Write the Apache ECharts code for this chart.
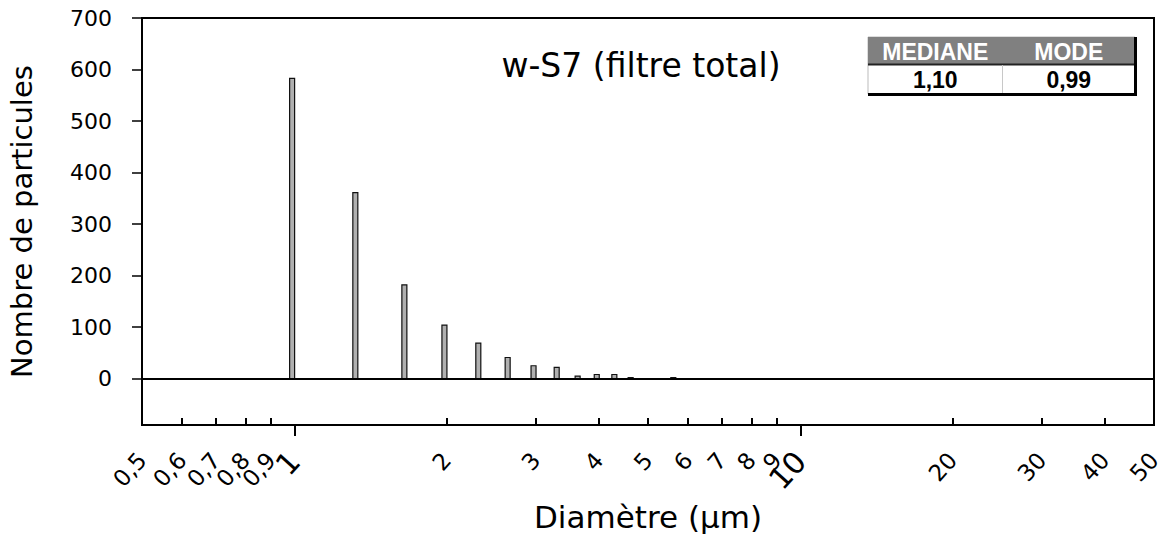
<!DOCTYPE html>
<html>
<head>
<meta charset="utf-8">
<script src="https://cdn.jsdelivr.net/npm/echarts@6.0.0/dist/echarts.min.js"></script>
<style>
html,body{margin:0;padding:0;background:#fff;}
#chart{width:1173px;height:538px;}
</style>
</head>
<body>
<div id="chart"></div>
<script>
// ---- data ----
const diameters = [0.99, 1.32, 1.65, 1.98, 2.31, 2.64, 2.97, 3.30, 3.63, 3.96, 4.29, 4.62, 5.61];
const counts = [583, 361, 182, 104, 69, 41, 25, 22, 5, 8, 8, 2, 2];
const xTickValues = [0.5, 0.6, 0.7, 0.8, 0.9, 1, 2, 3, 4, 5, 6, 7, 8, 9, 10, 20, 30, 40, 50];
const xTickLabels = ['0,5', '0,6', '0,7', '0,8', '0,9', '1', '2', '3', '4', '5', '6', '7', '8', '9', '10', '20', '30', '40', '50'];
const xMajorTicks = [1, 10];
const xMinorTicks = [0.6, 0.7, 0.8, 0.9, 2, 3, 4, 5, 6, 7, 8, 9, 20, 30, 40];
const yTickValues = [0, 100, 200, 300, 400, 500, 600, 700];
const yMin = -90, yMax = 700;
const xMin = 0.5, xMax = 50;
const chartTitle = 'w-S7 (filtre total)';
const xName = 'Diamètre (µm)';
const yName = 'Nombre de particules';
const tableHeaders = ['MEDIANE', 'MODE'];
const tableValues = ['1,10', '0,99'];

const lg = v => Math.log10(v);
const FONT = '"DejaVu Sans", sans-serif';
const TFONT = '"Liberation Sans", Arial, sans-serif';

function xLabelFmt(v) {
  let best = 0, bd = Infinity;
  for (let i = 0; i < xTickValues.length; i++) {
    const d = Math.abs(lg(xTickValues[i]) - v);
    if (d < bd) { bd = d; best = i; }
  }
  const t = xTickLabels[best];
  return xMajorTicks.indexOf(xTickValues[best]) >= 0 ? '{big|' + t + '}' : '{n|' + t + '}';
}

const chart = echarts.init(document.getElementById('chart'), null, {renderer: 'svg'});

// table geometry
const tX = 868, tY = 37, tW = 267, hH = 27, rH = 30, colX = 1002.5;

chart.setOption({
  animation: false,
  backgroundColor: '#ffffff',
  grid: {left: 142, right: 19, top: 18, bottom: 113, show: true, borderColor: '#000', borderWidth: 2, backgroundColor: 'transparent', outerBoundsMode: 'none', containLabel: false},
  xAxis: [{
    type: 'value', min: lg(xMin), max: lg(xMax), position: 'bottom',
    axisLine: {show: true, onZero: false, lineStyle: {color: '#000', width: 2}},
    axisTick: {show: true, inside: false, length: 11, customValues: xMajorTicks.map(lg), lineStyle: {color: '#000', width: 2}},
    axisLabel: {show: true, customValues: xTickValues.map(lg), rotate: 48, margin: 31, color: '#000', fontFamily: FONT, fontSize: 23,
      formatter: xLabelFmt,
      rich: {
        n: {fontSize: 23, fontFamily: FONT, color: '#000'},
        big: {fontSize: 30, fontFamily: FONT, color: '#000'}
      }},
    splitLine: {show: false},
    name: xName, nameLocation: 'middle', nameGap: 74,
    nameTextStyle: {fontFamily: FONT, fontSize: 31, color: '#000'}
  }, {
    type: 'value', min: lg(xMin), max: lg(xMax), position: 'bottom',
    axisLine: {show: false, onZero: false},
    axisTick: {show: true, inside: true, length: 7, customValues: xMinorTicks.map(lg), lineStyle: {color: '#000', width: 2}},
    axisLabel: {show: false},
    splitLine: {show: false}
  }],
  yAxis: {
    type: 'value', min: yMin, max: yMax,
    axisLine: {show: true, onZero: false, lineStyle: {color: '#000', width: 2}},
    axisTick: {show: true, inside: false, length: 10, customValues: yTickValues, lineStyle: {color: '#000', width: 1.5}},
    axisLabel: {show: true, customValues: yTickValues, margin: 30, color: '#000', fontFamily: FONT, fontSize: 22},
    splitLine: {show: false},
    name: yName, nameLocation: 'middle', nameGap: 106, nameRotate: 90,
    nameTextStyle: {fontFamily: FONT, fontSize: 29, color: '#000'}
  },
  series: [{
    type: 'custom',
    xAxisIndex: 0, yAxisIndex: 0,
    data: diameters.map((d, i) => [lg(d), counts[i]]),
    renderItem: function (params, api) {
      const top = api.coord([api.value(0), api.value(1)]);
      const base = api.coord([api.value(0), 0]);
      return {
        type: 'rect',
        shape: {x: top[0] - 2.5, y: top[1], width: 5, height: base[1] - top[1]},
        style: {fill: '#b0b0b0', stroke: '#111', lineWidth: 1.2}
      };
    },
    markLine: {
      silent: true, symbol: 'none', label: {show: false},
      lineStyle: {color: '#000', width: 2, type: 'solid'},
      data: [{yAxis: 0}]
    },
    z: 3
  }],
  graphic: [
    {type: 'text', x: 641, y: 65, style: {text: chartTitle, font: '33px ' + FONT, fill: '#000', align: 'center', verticalAlign: 'middle'}, z: 10},
    {type: 'rect', shape: {x: tX, y: tY, width: tW, height: hH + rH}, style: {fill: '#fff', stroke: '#bbb', lineWidth: 1}, z: 10},
    {type: 'rect', shape: {x: tX, y: tY, width: tW, height: hH}, style: {fill: '#808080'}, z: 11},
    {type: 'line', shape: {x1: tX, y1: tY + hH + 0.5, x2: tX + tW, y2: tY + hH + 0.5}, style: {stroke: '#222', lineWidth: 2}, z: 12},
    {type: 'line', shape: {x1: colX, y1: tY + hH + 1, x2: colX, y2: tY + hH + rH}, style: {stroke: '#c8c8c8', lineWidth: 1}, z: 12},
    {type: 'line', shape: {x1: tX, y1: tY + hH + rH + 0.5, x2: tX + tW + 1.5, y2: tY + hH + rH + 0.5}, style: {stroke: '#000', lineWidth: 3}, z: 12},
    {type: 'line', shape: {x1: tX + tW + 0.5, y1: tY, x2: tX + tW + 0.5, y2: tY + hH + rH + 2}, style: {stroke: '#000', lineWidth: 3}, z: 12},
    {type: 'text', x: (tX + colX) / 2, y: tY + hH / 2 + 1, style: {text: tableHeaders[0], font: 'bold 23px ' + TFONT, fill: '#fff', align: 'center', verticalAlign: 'middle'}, z: 13},
    {type: 'text', x: (colX + tX + tW) / 2, y: tY + hH / 2 + 1, style: {text: tableHeaders[1], font: 'bold 23px ' + TFONT, fill: '#fff', align: 'center', verticalAlign: 'middle'}, z: 13},
    {type: 'text', x: (tX + colX) / 2, y: tY + hH + rH / 2 + 1, style: {text: tableValues[0], font: 'bold 23px ' + TFONT, fill: '#000', align: 'center', verticalAlign: 'middle'}, z: 13},
    {type: 'text', x: (colX + tX + tW) / 2, y: tY + hH + rH / 2 + 1, style: {text: tableValues[1], font: 'bold 23px ' + TFONT, fill: '#000', align: 'center', verticalAlign: 'middle'}, z: 13}
  ]
});
</script>
</body>
</html>
